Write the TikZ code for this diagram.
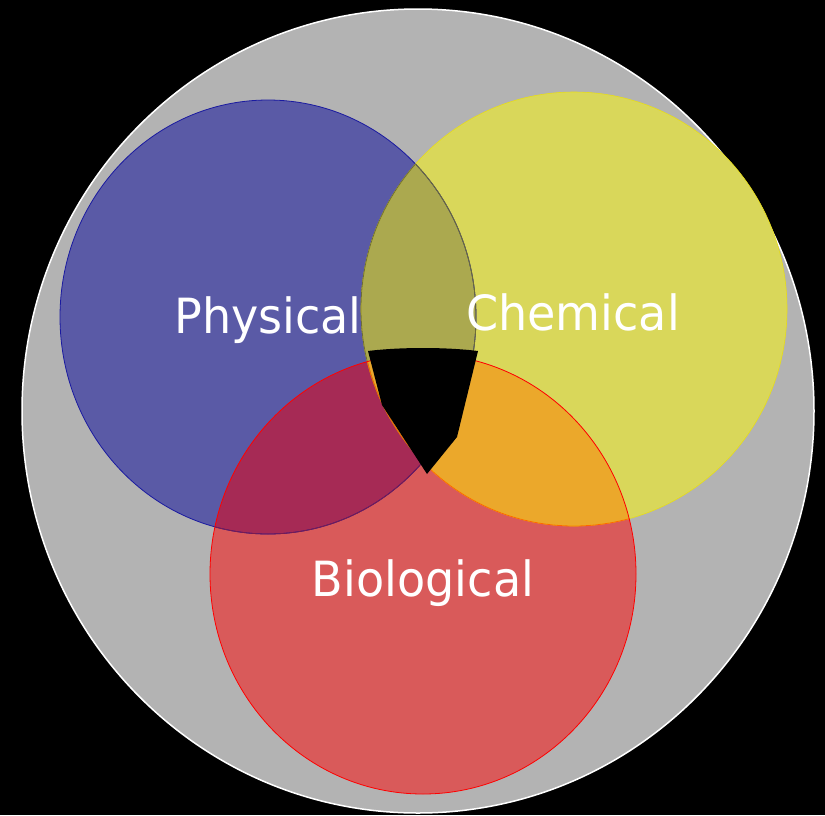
\documentclass[tikz,border=0pt]{standalone}
\usepackage{fontspec}
\setmainfont{DejaVu Sans}
\newfontfamily\lblfont[FakeStretch=0.95]{DejaVu Sans}
\definecolor{cgray}{HTML}{B3B3B3}
\definecolor{cblue}{HTML}{5A5AA6}
\definecolor{cyel}{HTML}{D9D75A}
\definecolor{cred}{HTML}{D95A5A}
\definecolor{cby}{HTML}{ABA94F}
\definecolor{cbr}{HTML}{A62A55}
\definecolor{cyr}{HTML}{EBA82B}
\definecolor{cblueline}{HTML}{1A1AA0}
\definecolor{cbyline}{HTML}{6E6D35}
\definecolor{cbrline}{HTML}{7A1A50}
\tikzset{lbl/.style={text=white,font=\lblfont\fontsize{48.5}{52}\selectfont,anchor=base,inner sep=0pt}}
\begin{document}
\begin{tikzpicture}[x=1pt,y=-1pt]
\def\bluepath{(268,317) ellipse [x radius=208,y radius=217]}
\def\yelpath{(574,309) ellipse [x radius=213,y radius=217]}
\def\redpath{(423,574) ellipse [x radius=213,y radius=220]}
\fill[black] (0,0) rectangle (825,815);
\useasboundingbox (0,0) rectangle (825,815);
\draw[white,line width=1.5pt,fill=cgray] (418,411) ellipse [x radius=396,y radius=402];
% base fills
\fill[cblue] \bluepath;
\fill[cyel] \yelpath;
\fill[cred] \redpath;
% overlaps
\begin{scope}\clip \bluepath; \fill[cby] \yelpath; \end{scope}
\begin{scope}\clip \bluepath; \fill[cbr] \redpath; \end{scope}
\begin{scope}\clip \yelpath; \fill[cyr] \redpath; \end{scope}
% outlines
\draw[cblueline,line width=0.8pt] \bluepath;
\draw[yellow!90!black,line width=0.6pt] \yelpath;
\begin{scope}\clip \yelpath; \draw[cbyline,line width=0.8pt] \bluepath; \end{scope}
\begin{scope}\clip \bluepath; \draw[cbyline,line width=0.8pt] \yelpath; \end{scope}
\begin{scope}\clip \redpath; \draw[cbrline,line width=0.8pt] \bluepath; \end{scope}
\begin{scope}\clip \redpath; \draw[orange!80!red,line width=0.8pt] \yelpath; \end{scope}
\draw[red,line width=0.8pt] \redpath;
% black centre
\fill[black] (368,351) .. controls (400,347) and (446,347) .. (478,351) -- (457,437) -- (427,474) -- (382,405) -- cycle;
% labels
\node[lbl] (phys) at (268,333) {Physical};
\node[lbl] (chem) at (573,330) {Chemical};
\node[lbl] (bio) at (423,596) {Biological};
\end{tikzpicture}
\end{document}
